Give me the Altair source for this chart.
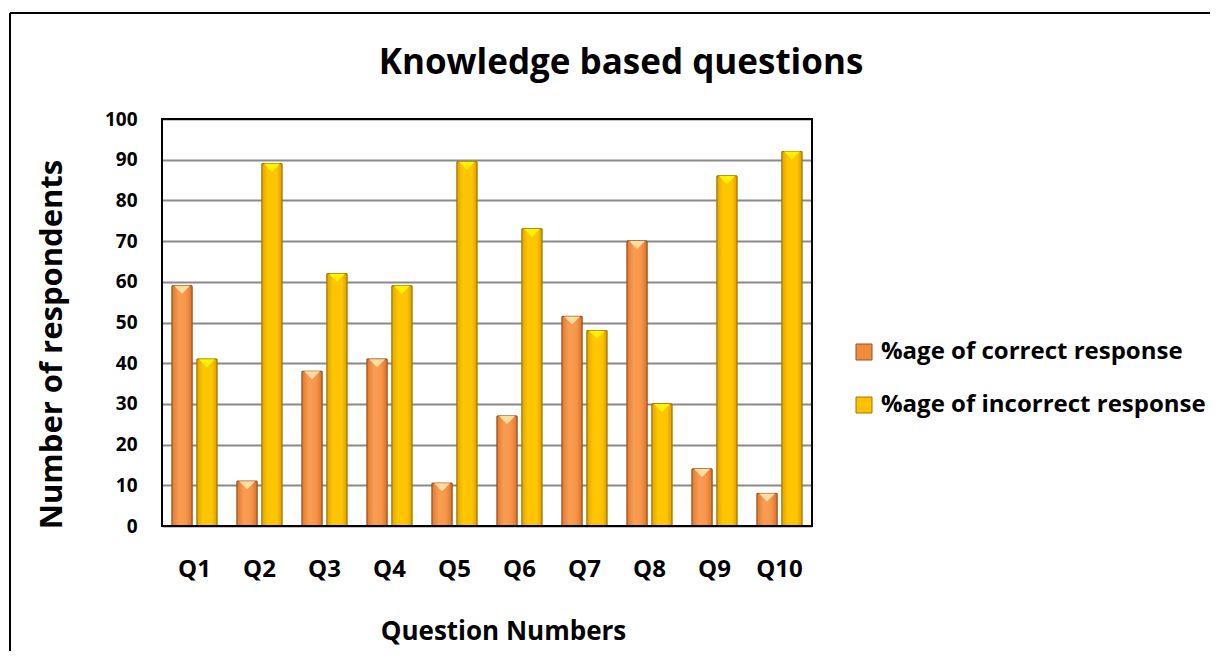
import altair as alt
import pandas as pd

questions = ["Q1", "Q2", "Q3", "Q4", "Q5", "Q6", "Q7", "Q8", "Q9", "Q10"]
correct = [59, 11, 38, 41, 10.5, 27, 51.5, 70, 14, 8]
incorrect = [41, 89, 62, 59, 89.5, 73, 48, 30, 86, 92]
series = ["%age of correct response", "%age of incorrect response"]
title_text = "Knowledge based questions"

rows = []
for q, c, i in zip(questions, correct, incorrect):
    rows.append({"Question": q, "Response": series[0], "Value": c})
    rows.append({"Question": q, "Response": series[1], "Value": i})
df = pd.DataFrame(rows)

FONT = "Open Sans"
W, H = 650, 407

x_enc = alt.X("Question:N", sort=questions,
              scale=alt.Scale(paddingInner=0.31, paddingOuter=0.155),
              axis=alt.Axis(title="Question Numbers", labelAngle=0, ticks=False,
                            labelPadding=31, labelFontSize=24, labelFontWeight="bold",
                            labelFont=FONT, labelColor="black", titleFont=FONT,
                            titleFontSize=26, titleFontWeight="bold", titlePadding=37,
                            titleX=341, titleColor="black", domain=False, grid=False))
xo_enc = alt.XOffset("Response:N", sort=series,
                     scale=alt.Scale(paddingInner=0.2, paddingOuter=0))
y_enc = alt.Y("Value:Q", scale=alt.Scale(domain=[0, 100], nice=False),
              axis=alt.Axis(title="Number of respondents", values=list(range(0, 101, 10)),
                            ticks=False, labelPadding=25, labelFontSize=19,
                            labelFontWeight="bold", labelFont=FONT, labelColor="black",
                            titleFont=FONT, titleFontSize=31, titleFontWeight="bold",
                            titleColor="black", titlePadding=36, titleY=225,
                            domain=False, grid=True, gridColor="#8a8a8a", gridWidth=2))

base = alt.Chart(df)

bars = base.mark_bar(strokeWidth=1).encode(
    x=x_enc, xOffset=xo_enc, y=y_enc,
    color=alt.Color("Response:N", sort=series,
                    scale=alt.Scale(domain=series, range=["#F28C38", "#FFC000"]),
                    legend=alt.Legend(title=None, orient="none", legendX=690, legendY=221,
                                      symbolType="square", symbolSize=256,
                                      symbolStrokeWidth=1, labelFont=FONT,
                                      labelFontSize=24, labelFontWeight="bold",
                                      labelColor="black", rowPadding=29, labelOffset=5,
                                      labelLimit=400)),
    stroke=alt.Stroke("Response:N", sort=series,
                      scale=alt.Scale(domain=series, range=["#9A5222", "#A07800"]),
                      legend=None),
)

grad_orange = alt.Gradient(gradient="linear", x1=0, x2=1, y1=0, y2=0, stops=[
    alt.GradientStop(color="#E27A2C", offset=0),
    alt.GradientStop(color="#F99D55", offset=0.35),
    alt.GradientStop(color="#F7964A", offset=0.7),
    alt.GradientStop(color="#D9742A", offset=1)])
grad_gold = alt.Gradient(gradient="linear", x1=0, x2=1, y1=0, y2=0, stops=[
    alt.GradientStop(color="#E0A500", offset=0),
    alt.GradientStop(color="#FFC600", offset=0.3),
    alt.GradientStop(color="#FFC400", offset=0.75),
    alt.GradientStop(color="#D9A000", offset=1)])

over_c = base.mark_bar(fill=grad_orange, stroke="#9A5222", strokeWidth=1).encode(
    x=x_enc, xOffset=xo_enc, y=y_enc).transform_filter(alt.datum.Response == series[0])
over_i = base.mark_bar(fill=grad_gold, stroke="#A07800", strokeWidth=1).encode(
    x=x_enc, xOffset=xo_enc, y=y_enc).transform_filter(alt.datum.Response == series[1])

tri_shape = "M-0.8,0 L0.8,0 L0,0.8 Z"
tri_c = base.mark_point(shape=tri_shape, filled=True, size=400, color="#FFDCA0",
                        opacity=1).encode(
    x=x_enc, xOffset=xo_enc, y=y_enc).transform_filter(alt.datum.Response == series[0])
tri_i = base.mark_point(shape=tri_shape, filled=True, size=400, color="#FFF200",
                        opacity=1).encode(
    x=x_enc, xOffset=xo_enc, y=y_enc).transform_filter(alt.datum.Response == series[1])

one = pd.DataFrame({"t": [title_text]})

# plot-area box
box = alt.Chart(one).mark_rect(fill=None, stroke="black", strokeWidth=2, clip=False).encode(
    x=alt.value(0), x2=alt.value(W), y=alt.value(0), y2=alt.value(H))

# outer frame (decorative border around the chart)
frame_left = alt.Chart(one).mark_rule(color="black", strokeWidth=2, clip=False).encode(
    x=alt.value(-152), y=alt.value(-106), y2=alt.value(600))
frame_top = alt.Chart(one).mark_rule(color="black", strokeWidth=2, clip=False).encode(
    x=alt.value(-152), x2=alt.value(1100), y=alt.value(-106))

title = alt.Chart(one).mark_text(font=FONT, fontSize=35, fontWeight="bold", color="black",
                                 align="center", baseline="middle", clip=False).encode(
    text="t:N", x=alt.value(459), y=alt.value(-56))

chart = alt.layer(bars, over_c, over_i, tri_c, tri_i, box, frame_left, frame_top,
                  title).properties(
    width=W, height=H,
    autosize=alt.AutoSizeParams(type="none"),
    padding={"left": 154, "top": 111, "right": 398, "bottom": 125},
).configure_view(stroke=None).configure(background="white")

chart.save("out.html", embed_options={"renderer": "svg", "actions": False})
